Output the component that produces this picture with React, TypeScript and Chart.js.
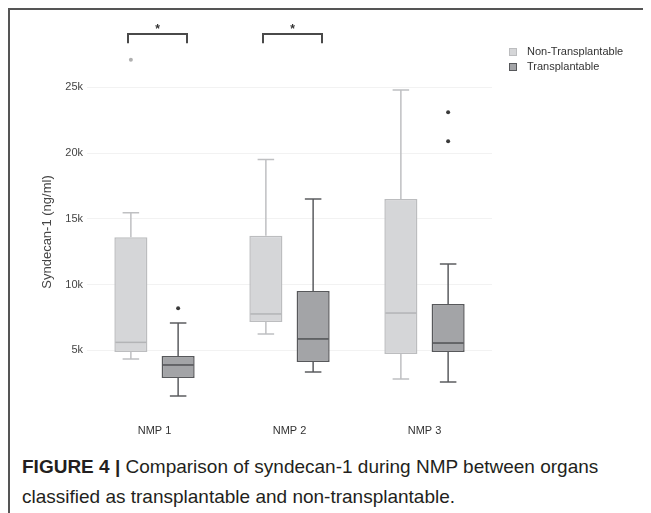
import React, { useEffect, useRef } from "react";
import { Chart, registerables } from "chart.js";

Chart.register(...registerables);

// ---- data ----
const categories = ["NMP 1", "NMP 2", "NMP 3"];
const seriesNames = ["Non-Transplantable", "Transplantable"];

const nonTransMin = [4330, 6240, 2810];
const nonTransQ1 = [4870, 7150, 4710];
const nonTransMedian = [5600, 7760, 7830];
const nonTransQ3 = [13600, 13700, 16500];
const nonTransMax = [15450, 19500, 24800];
const nonTransOutliers = [[27100], [], []];

const transMin = [1520, 3350, 2590];
const transQ1 = [2890, 4100, 4870];
const transMedian = [3880, 5860, 5550];
const transQ3 = [4560, 9500, 8520];
const transMax = [7070, 16500, 11560];
const transOutliers = [[8200], [], [23100, 20900]];

const yTicks = [5000, 10000, 15000, 20000, 25000];
const yMin = 0;
const yMax = 30000;

const bracketCategories = [0, 1];
const bracketLabels = ["*", "*"];
const bracketValue = 29050;
const bracketLegValue = 28350;

const yTitle = "Syndecan-1 (ng/ml)";

// ---- styles ----
const FONT = "'Liberation Sans', Arial, Helvetica, sans-serif";
const styles = [
  { fill: "#d5d6d8", border: "#bcbdbf", whisker: "#bfc0c2", median: "#b3b4b6", outlier: "#b0b0b0" },
  { fill: "#a3a4a7", border: "#57585b", whisker: "#5c5d60", median: "#505154", outlier: "#3a3a3a" },
];
const statSets = [
  { min: nonTransMin, med: nonTransMedian, max: nonTransMax, out: nonTransOutliers },
  { min: transMin, med: transMedian, max: transMax, out: transOutliers },
];

const extrasPlugin = {
  id: "boxExtras",
  afterDatasetsDraw(chart: any) {
    const ctx = chart.ctx;
    const ys = chart.scales.y;
    const xs = chart.scales.x;
    ctx.save();
    statSets.forEach((s, d) => {
      const meta = chart.getDatasetMeta(d);
      const st = styles[d];
      meta.data.forEach((el: any, i: number) => {
        const x = el.x;
        const w = el.width;
        const q1 = ys.getPixelForValue(d === 0 ? nonTransQ1[i] : transQ1[i]);
        const q3 = ys.getPixelForValue(d === 0 ? nonTransQ3[i] : transQ3[i]);
        const top = ys.getPixelForValue(s.max[i]);
        const bot = ys.getPixelForValue(s.min[i]);
        const med = ys.getPixelForValue(s.med[i]);
        const cap = w * 0.25;
        ctx.strokeStyle = st.whisker;
        ctx.lineWidth = 1.5;
        ctx.beginPath();
        ctx.moveTo(x, q3);
        ctx.lineTo(x, top);
        ctx.moveTo(x - cap, top);
        ctx.lineTo(x + cap, top);
        ctx.moveTo(x, q1);
        ctx.lineTo(x, bot);
        ctx.moveTo(x - cap, bot);
        ctx.lineTo(x + cap, bot);
        ctx.stroke();
        ctx.strokeStyle = st.median;
        ctx.beginPath();
        ctx.moveTo(x - w / 2 + 1, med);
        ctx.lineTo(x + w / 2 - 1, med);
        ctx.stroke();
        ctx.fillStyle = st.outlier;
        s.out[i].forEach((v: number) => {
          ctx.beginPath();
          ctx.arc(x, ys.getPixelForValue(v), 2, 0, Math.PI * 2);
          ctx.fill();
        });
      });
    });
    // significance brackets
    ctx.strokeStyle = "#4a4a4a";
    ctx.fillStyle = "#333";
    ctx.lineWidth = 2;
    bracketCategories.forEach((c, k) => {
      const cx = xs.getPixelForValue(c) + 3;
      const yt = ys.getPixelForValue(bracketValue);
      const yl = ys.getPixelForValue(bracketLegValue);
      ctx.beginPath();
      ctx.moveTo(cx - 29.5, yl);
      ctx.lineTo(cx - 29.5, yt);
      ctx.lineTo(cx + 29.5, yt);
      ctx.lineTo(cx + 29.5, yl);
      ctx.stroke();
      ctx.font = `bold 12px ${FONT}`;
      ctx.textAlign = "center";
      ctx.textBaseline = "middle";
      ctx.fillText(bracketLabels[k], cx, yt - 4);
    });
    ctx.restore();
  },
  afterDraw(chart: any) {
    const ctx = chart.ctx;
    const area = chart.chartArea;
    ctx.save();
    // y axis title
    ctx.translate(37, 222);
    ctx.rotate(-Math.PI / 2);
    ctx.font = `13px ${FONT}`;
    ctx.fillStyle = "#444";
    ctx.textAlign = "center";
    ctx.textBaseline = "middle";
    ctx.fillText(yTitle, 0, 0);
    ctx.restore();
    // legend
    ctx.save();
    ctx.font = `11px ${FONT}`;
    ctx.textBaseline = "middle";
    ctx.textAlign = "left";
    seriesNames.forEach((n, k) => {
      const lx = area.right + 17;
      const ly = 42 + k * 15;
      ctx.fillStyle = styles[k].fill;
      ctx.fillRect(lx, ly - 4, 8, 8);
      ctx.strokeStyle = styles[k].border;
      ctx.lineWidth = 1;
      ctx.strokeRect(lx + 0.5, ly - 3.5, 7, 7);
      ctx.fillStyle = "#333";
      ctx.fillText(n, lx + 18, ly);
    });
    ctx.restore();
  },
};

export default function App() {
  const ref = useRef<HTMLCanvasElement | null>(null);
  useEffect(() => {
    if (!ref.current) return;
    const chart = new Chart(ref.current, {
      type: "bar",
      data: {
        labels: categories,
        datasets: [
          {
            label: seriesNames[0],
            data: nonTransQ1.map((v, i) => [v, nonTransQ3[i]]) as any,
            backgroundColor: styles[0].fill,
            borderColor: styles[0].border,
            borderWidth: 1.5,
            borderSkipped: false,
          },
          {
            label: seriesNames[1],
            data: transQ1.map((v, i) => [v, transQ3[i]]) as any,
            backgroundColor: styles[1].fill,
            borderColor: styles[1].border,
            borderWidth: 1.5,
            borderSkipped: false,
          },
        ],
      },
      options: {
        responsive: false,
        animation: false,
        events: [],
        layout: { padding: { left: 0, right: 159, top: 11.5, bottom: 0 } },
        datasets: { bar: { categoryPercentage: 0.7, barPercentage: 0.7 } },
        plugins: { legend: { display: false }, tooltip: { enabled: false } },
        scales: {
          x: {
            grid: { display: false },
            border: { display: false },
            ticks: { color: "#333", font: { family: FONT, size: 11 }, padding: 0 },
            afterFit: (s: any) => {
              s.height = 19;
            },
          },
          y: {
            min: yMin,
            max: yMax,
            grid: { color: "#f2f2f2", drawTicks: false, lineWidth: 1 },
            border: { display: false },
            ticks: {
              color: "#444",
              font: { family: FONT, size: 11 },
              padding: 4,
              callback: (v: any) => `${Number(v) / 1000}k`,
            },
            afterBuildTicks: (s: any) => {
              s.ticks = yTicks.map((v) => ({ value: v }));
            },
            afterFit: (s: any) => {
              s.width = 77;
            },
          },
        },
      },
      plugins: [extrasPlugin],
    });
    return () => chart.destroy();
  }, []);

  return (
    <div
      style={{
        position: "relative",
        width: 643,
        height: 505,
        boxSizing: "border-box",
        borderTop: "2px solid #555",
        borderLeft: "2px solid #555",
        background: "#fff",
      }}
    >
      <canvas ref={ref} width={641} height={425} style={{ position: "absolute", left: 0, top: 0 }} />
      <div
        style={{
          position: "absolute",
          left: 12,
          top: 442,
          fontFamily: FONT,
          fontSize: 19,
          lineHeight: "30px",
          color: "#231f20",
          whiteSpace: "nowrap",
        }}
      >
        <div>
          <b>FIGURE 4 |</b> Comparison of syndecan-1 during NMP between organs
        </div>
        <div>classified as transplantable and non-transplantable.</div>
      </div>
    </div>
  );
}
